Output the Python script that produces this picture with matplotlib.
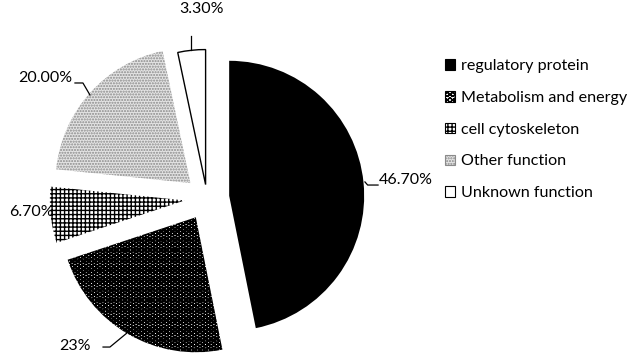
import matplotlib
matplotlib.use("Agg")
import numpy as np
import matplotlib.pyplot as plt
from matplotlib.patches import Patch

plt.rcParams['font.family'] = ['Lato', 'DejaVu Sans']

# Protein function categories and their shares (%)
categories = ["regulatory protein", "Metabolism and energy", "cell cytoskeleton",
              "Other function", "Unknown function"]
shares = [46.7, 23.0, 6.7, 20.0, 3.3]
value_labels = ["46.70%", "23%", "6.70%", "20.00%", "3.30%"]

# fill styles per slice: (facecolor, hatch colour, hatch)
styles = [
    ("black", "black", None),
    ("white", "black", "OOO"),
    ("white", "black", "++++"),
    ("#e4e4e4", "#8a8a8a", "......"),
    ("white", "black", None),
]
explode = [0.165, 0.165, 0.165, 0.165, 0.10]

fig = plt.figure(figsize=(6.3, 3.54), dpi=100)
ax = fig.add_axes([0, 0, 1, 1])

wedges, _ = ax.pie(shares, startangle=90, counterclock=False,
                   explode=explode, radius=1.0)

for w, (fc, hc, hatch) in zip(wedges, styles):
    w.set_facecolor(fc)
    w.set_edgecolor(hc)
    w.set_linewidth(0)
    if hatch:
        w.set_hatch(hatch)
# only the unknown slice has a visible outline
wedges[4].set_linewidth(1.0)
wedges[4].set_edgecolor("black")
try:
    wedges[1].set_hatch_linewidth(1.5)
except AttributeError:
    pass

# pie is centred with radius 1 unit = 135 px
ax.set_xlim(-207 / 135, (630 - 207) / 135)
ax.set_ylim(-(354 - 198) / 135, 198 / 135)
ax.set_aspect('equal')
ax.axis('off')

# value labels with short leader lines
label_pos = [(1.474, 0.133), (-0.978, -1.096), (-1.304, -0.104), (-1.20, 0.889), (-0.037, 1.40)]
leaders = [
    [(1.170, 0.119), (1.190, 0.096), (1.267, 0.096)],
    [(-0.593, -1.0), (-0.719, -1.104), (-0.770, -1.104)],
    None,
    [(-0.867, 0.763), (-0.919, 0.852), (-0.978, 0.852)],
    [(-0.119, 1.095), (-0.119, 1.20)],
]
for txt, pos, ld in zip(value_labels, label_pos, leaders):
    ax.text(pos[0], pos[1], txt, ha='center', va='center', fontsize=11.5, color='black')
    if ld:
        xs, ys = zip(*ld)
        ax.plot(xs, ys, color='black', lw=0.9)

handles = []
for i, (fc, hc, hatch) in enumerate(styles):
    p = Patch(facecolor=fc, edgecolor=hc if hatch else 'black',
              hatch=hatch, linewidth=0.8)
    handles.append(p)
leg = fig.legend(handles, categories, loc='upper left',
                 bbox_to_anchor=(434 / 630, 1 - 48 / 354), frameon=False,
                 fontsize=11.6, handlelength=0.62, handleheight=0.62,
                 handletextpad=0.35, labelspacing=1.1, borderpad=0.2)

fig.savefig("out.png", dpi=100)
